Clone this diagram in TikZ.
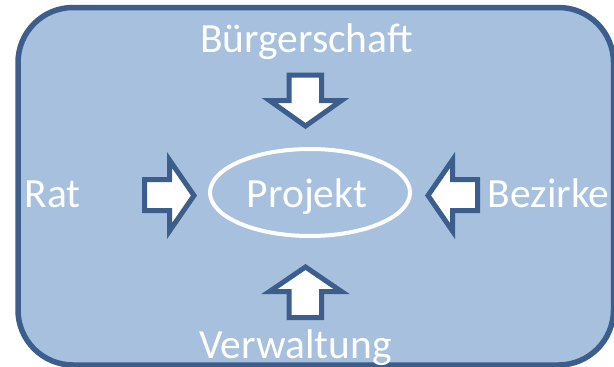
\documentclass[tikz,border=0pt]{standalone}
\usepackage{fontspec}
\setmainfont{Carlito}
\usetikzlibrary{shapes.geometric}
\definecolor{panelfill}{HTML}{A7C0DE}
\definecolor{panelline}{HTML}{3B5E8C}
\tikzset{
  panel/.style={draw=panelline, fill=panelfill, line width=5.5pt, rounded corners=55pt},
  blockarrow/.style={draw=panelline, fill=white, line width=5pt, line join=miter},
  label/.style={text=white, inner sep=0pt, anchor=base, font=\fontsize{41.5}{50}\selectfont},
  ring/.style={draw=white, line width=4pt, ellipse, inner sep=0pt}
}
\begin{document}
\begin{tikzpicture}[x=1pt, y=-1pt]
\useasboundingbox (0,0) rectangle (614,367);
\clip (0,0) rectangle (614,367);
% panel
\draw[panel] (18,7.5) rectangle (613.5,365);
% ellipse
\node[ring, minimum width=200pt, minimum height=87pt] (ell) at (310,192.5) {};
% arrows
\draw[blockarrow] (144.5,179.5) -- (169.5,179.5) -- (169.5,160) -- (194,195.5) -- (169.5,231) -- (169.5,210.5) -- (144.5,210.5) -- cycle;
\draw[blockarrow] (477.5,179.5) -- (452.5,179.5) -- (452.5,160) -- (428,195.5) -- (452.5,231) -- (452.5,210.5) -- (477.5,210.5) -- cycle;
\draw[blockarrow] (289,75) -- (321.5,75) -- (321.5,100.5) -- (341.5,100.5) -- (305.5,126) -- (269.5,100.5) -- (289,100.5) -- cycle;
\draw[blockarrow] (289,317.5) -- (321.5,317.5) -- (321.5,291.5) -- (341.5,291.5) -- (305.5,267) -- (269.5,291.5) -- (289,291.5) -- cycle;
% labels
\node[label] (buerger) at (306.5,52) {Bürgerschaft};
\node[label] (verw) at (295.5,358) {Verwaltung};
\node[label] (rat) at (52.5,207) {Rat};
\node[label] (bez) at (548.5,207) {Bezirke};
\node[label] (proj) at (307,207) {Projekt};
\end{tikzpicture}
\end{document}
